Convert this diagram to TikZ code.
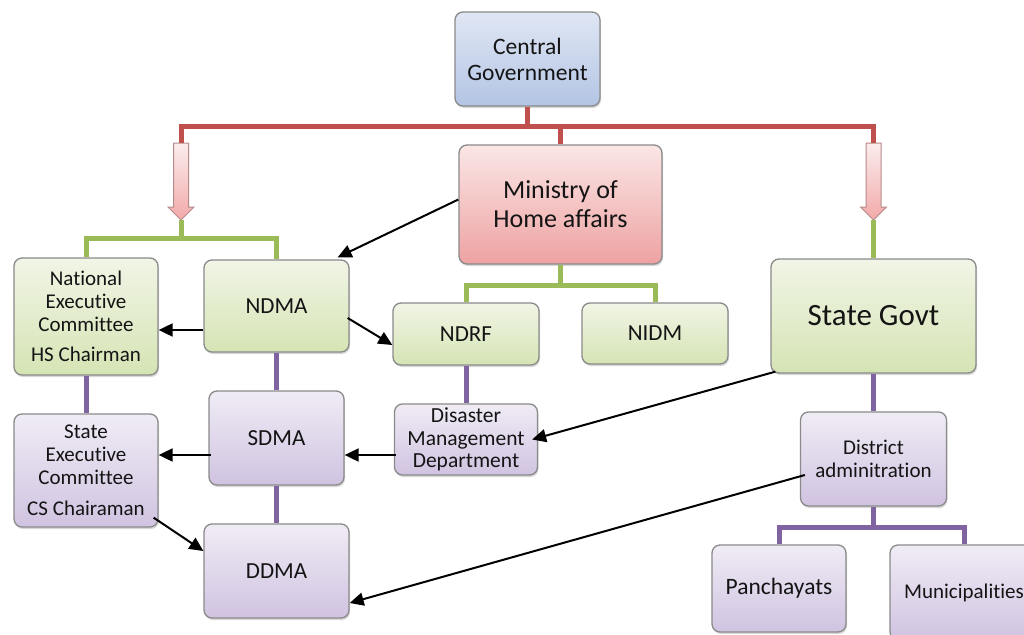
\documentclass[tikz,border=0pt]{standalone}
\usepackage{fontspec}
\setmainfont{Carlito}[Ligatures={NoCommon,NoContextual}]
\usetikzlibrary{arrows.meta,shadows}
\definecolor{redln}{HTML}{C0504D}
\definecolor{grnln}{HTML}{9BBB59}
\definecolor{purln}{HTML}{8064A2}
\definecolor{bordr}{HTML}{8A8A8A}
\definecolor{gtop}{HTML}{F1F5E6}
\definecolor{gbot}{HTML}{D5E4B4}
\definecolor{ptop}{HTML}{F0ECF5}
\definecolor{pbot}{HTML}{D0C3E1}
\definecolor{btop}{HTML}{E0E7F4}
\definecolor{bbot}{HTML}{B3C4E4}
\definecolor{rtop}{HTML}{FBE6E6}
\definecolor{rbot}{HTML}{EEA2A2}
\definecolor{atop}{HTML}{FBEDED}
\definecolor{abot}{HTML}{F2A9A9}
\definecolor{abrd}{HTML}{B88A8A}
\definecolor{txt}{HTML}{141414}
\begin{document}
\begin{tikzpicture}[x=1pt,y=-1pt,
  box/.style={draw=bordr, line width=1.3pt, rounded corners=8pt, inner sep=2pt,
    align=center, text=txt,
    drop shadow={shadow xshift=1pt, shadow yshift=-2pt, opacity=0.3}},
  gbox/.style={box, top color=gtop, bottom color=gbot},
  pbox/.style={box, top color=ptop, bottom color=pbot},
  bbox/.style={box, top color=btop, bottom color=bbot},
  rbox/.style={box, top color=rtop, bottom color=rbot},
  fa/.style={font=\fontsize{23}{26}\selectfont},
  fb/.style={font=\fontsize{21}{23}\selectfont},
  redline/.style={draw=redln, line width=5pt},
  grnline/.style={draw=grnln, line width=5pt},
  purline/.style={draw=purln, line width=5pt},
  arr/.style={draw=black, line width=2pt, -{Triangle[length=14pt,width=13pt]}},
  blockarrow/.style={top color=atop, bottom color=abot, draw=abrd, line width=1pt}
]
\fill[white] (0,0) rectangle (1024,634);
\useasboundingbox (0,0) rectangle (1024,634);

% nodes
\node[bbox, minimum width=145pt, minimum height=94pt, font=\fontsize{23.5}{26}\selectfont] (cg) at (527.5,59) {Central\\Government};
\node[rbox, minimum width=203pt, minimum height=119pt, font=\fontsize{26}{29}\selectfont] (moh) at (560.5,204.5) {Ministry of\\Home affairs};
\node[gbox, minimum width=144pt, minimum height=117pt, fb] (nec) at (86,316.5) {National\\Executive\\Committee\\[7pt]HS Chairman};
\node[gbox, minimum width=145pt, minimum height=92pt, fa] (ndma) at (276.5,306) {NDMA};
\node[gbox, minimum width=146pt, minimum height=62pt, fa] (ndrf) at (466,334) {NDRF};
\node[gbox, minimum width=146pt, minimum height=61pt, fa] (nidm) at (655,333.5) {NIDM};
\node[gbox, minimum width=205pt, minimum height=114pt, font=\fontsize{31}{34}\selectfont] (sg) at (873.5,316) {State Govt};
\node[pbox, minimum width=144pt, minimum height=113pt, fb] (sec) at (86,470.5) {State\\Executive\\Committee\\[8pt]CS Chairaman};
\node[pbox, minimum width=135pt, minimum height=94pt, fa] (sdma) at (276.5,438) {SDMA};
\node[pbox, minimum width=145pt, minimum height=94pt, fa] (ddma) at (276.5,571) {DDMA};
\node[pbox, minimum width=143pt, minimum height=71pt, font=\fontsize{21.5}{22.5}\selectfont] (dmd) at (466,439.5) {Disaster\\Management\\Department};
\node[pbox, minimum width=146pt, minimum height=94pt, font=\fontsize{21}{23.5}\selectfont] (da) at (873.5,459) {District\\adminitration};
\node[pbox, minimum width=134pt, minimum height=87pt, font=\fontsize{23.5}{26}\selectfont] (pan) at (779,588.5) {Panchayats};
\node[pbox, minimum width=148pt, minimum height=95pt, fb] (mun) at (964,592.5) {Municipalities};

% block arrows
\shade[blockarrow] (173.5,143) -- (188.5,143) -- (188.5,207) -- (194,207) -- (181,220) -- (168,207) -- (173.5,207) -- cycle;
\coordinate (la) at (181,143);
\coordinate (lat) at (181,220);
\shade[blockarrow] (866,143) -- (881,143) -- (881,207) -- (886.5,207) -- (873.5,220) -- (860.5,207) -- (866,207) -- cycle;
\coordinate (ra) at (873.5,143);
\coordinate (rat) at (873.5,220);

% red bus
\coordinate (rb) at ([yshift=-20pt]cg.south);
\draw[redline] (cg.south) -- (rb);
\draw[redline] (la) -- (la |- rb) -- (ra |- rb) -- (ra);
\draw[redline] (rb -| moh.north) -- (moh.north);

% green buses
\coordinate (gb) at ([yshift=-18pt]lat);
\draw[grnline] (lat) -- (gb);
\draw[grnline] (nec.north) -- (nec.north |- gb) -- (ndma.north |- gb) -- (ndma.north);
\coordinate (mb) at ([yshift=-21pt]moh.south);
\draw[grnline] (moh.south) -- (mb);
\draw[grnline] (ndrf.north) -- (ndrf.north |- mb) -- (nidm.north |- mb) -- (nidm.north);
\draw[grnline] (rat) -- (sg.north);

% purple lines
\draw[purline] (nec.south) -- (sec.north);
\draw[purline] (ndma.south) -- (sdma.north);
\draw[purline] (sdma.south) -- (ddma.north);
\draw[purline] (ndrf.south) -- (dmd.north);
\draw[purline] (sg.south) -- (da.north);
\coordinate (pb) at ([yshift=-21pt]da.south);
\draw[purline] (da.south) -- (pb);
\draw[purline] (pan.north) -- (pan.north |- pb) -- (mun.north |- pb) -- (mun.north);

% black arrows
\draw[arr] ([yshift=5pt]moh.west) -- ([xshift=-12pt,yshift=2pt]ndma.north east);
\draw[arr] ([yshift=-24pt]ndma.west) -- ([yshift=-13.5pt]nec.east);
\draw[arr] ([xshift=-2pt,yshift=-12pt]ndma.east) -- ([yshift=-11pt]ndrf.west);
\draw[arr] ([xshift=3pt,yshift=-17pt]sdma.west) -- ([yshift=15.5pt]sec.east);
\draw[arr] ([xshift=2pt,yshift=-15.5pt]dmd.west) -- ([yshift=-17pt]sdma.east);
\draw[arr] ([xshift=-5pt,yshift=10pt]sec.south east) -- ([yshift=20pt]ddma.west);
\draw[arr] ([xshift=5pt,yshift=2pt]sg.south west) -- ([xshift=-6pt]dmd.east);
\draw[arr] ([xshift=5pt,yshift=-16pt]da.west) -- ([yshift=-32pt]ddma.east);
\end{tikzpicture}
\end{document}
